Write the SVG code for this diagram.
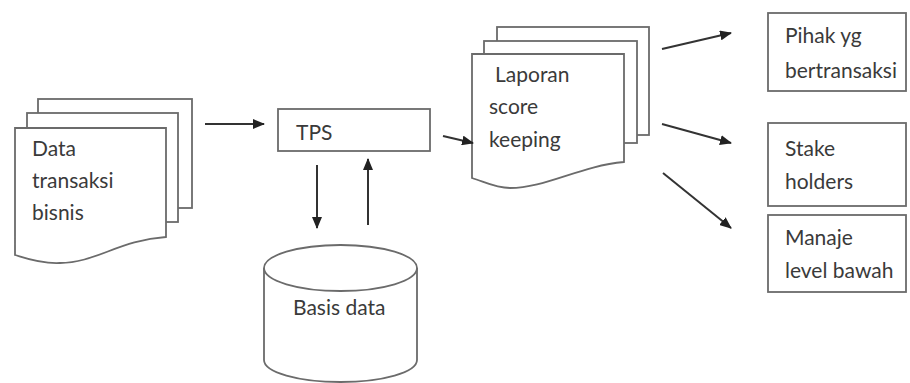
<svg xmlns="http://www.w3.org/2000/svg" width="910" height="383" viewBox="0 0 910 383">
<defs>
<style>
.shape{fill:#fff;stroke:#6b6b6b;stroke-width:1.8}
.conn{stroke:#333;stroke-width:2;fill:none;marker-end:url(#ah)}
.t{font-family:Lato,"Open Sans",sans-serif;font-size:21px;fill:#3a3a3a}
</style>
<marker id="ah" viewBox="0 0 12 10" refX="11" refY="5" markerWidth="12" markerHeight="10" markerUnits="userSpaceOnUse" orient="auto">
<path d="M0,0 L12,5 L0,10 Z" fill="#222"/>
</marker>
</defs>
<rect width="910" height="383" fill="#fff"/>
<g id="data-transaksi">
<rect class="shape" x="38" y="99" width="154" height="109"/>
<rect class="shape" x="27" y="113" width="151" height="109"/>
<path class="shape" d="M15,128 H166 V237 C120,240 95,263 60,263 C40,264 25,258 15,255 Z"/>
<text class="t" x="32" y="156">Data</text>
<text class="t" x="32" y="188">transaksi</text>
<text class="t" x="32" y="220">bisnis</text>
</g>
<g id="tps">
<rect class="shape" x="278" y="109" width="152" height="42"/>
<text class="t" x="296" y="140">TPS</text>
</g>
<g id="basis-data">
<path class="shape" d="M264,268 V360 A76.5,22 0 0 0 417,360 V268"/>
<ellipse class="shape" cx="340.5" cy="268" rx="76.5" ry="23"/>
<text class="t" x="293" y="315">Basis data</text>
</g>
<g id="laporan">
<rect class="shape" x="497" y="27" width="152" height="108"/>
<rect class="shape" x="484" y="41" width="153" height="102"/>
<path class="shape" d="M472,54 H624 V162 C580,166 545,188 510,188 C495,188 485,182 472,178 Z"/>
<text class="t" x="495" y="82">Laporan</text>
<text class="t" x="489" y="114">score</text>
<text class="t" x="489" y="147">keeping</text>
</g>
<g id="pihak">
<rect class="shape" x="768" y="13" width="138" height="78"/>
<text class="t" x="785" y="43">Pihak yg</text>
<text class="t" x="785" y="78">bertransaksi</text>
</g>
<g id="stake">
<rect class="shape" x="768" y="123" width="138" height="83"/>
<text class="t" x="785" y="156">Stake</text>
<text class="t" x="785" y="189">holders</text>
</g>
<g id="manaje">
<rect class="shape" x="768" y="215" width="138" height="77"/>
<text class="t" x="785" y="245">Manaje</text>
<text class="t" x="785" y="278">level bawah</text>
</g>
<g id="connectors">
<line class="conn" x1="205" y1="124" x2="264" y2="124"/>
<line class="conn" x1="317" y1="165" x2="317" y2="228"/>
<line class="conn" x1="368" y1="225" x2="368" y2="159"/>
<line class="conn" x1="443" y1="136" x2="473" y2="143"/>
<line class="conn" x1="662" y1="49" x2="731" y2="33"/>
<line class="conn" x1="662" y1="124" x2="731" y2="143"/>
<line class="conn" x1="663" y1="173" x2="731" y2="228"/>
</g>
</svg>
